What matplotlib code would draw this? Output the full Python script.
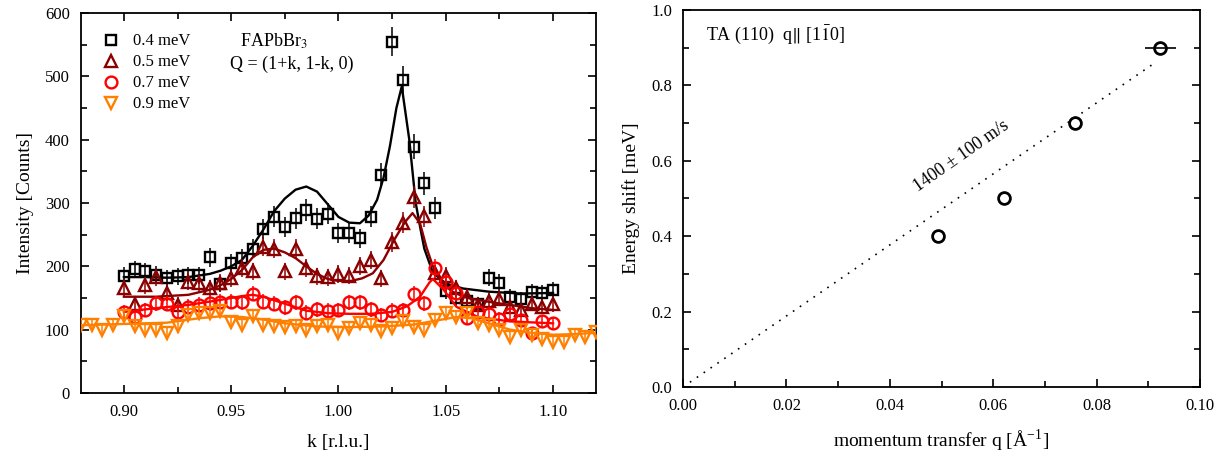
import numpy as np
import matplotlib
matplotlib.use("Agg")
import matplotlib.pyplot as plt
from matplotlib.lines import Line2D
from matplotlib.ticker import MultipleLocator

# --- datos ---
k_main = [0.900, 0.905, 0.910, 0.915, 0.920, 0.925, 0.930, 0.935, 0.940, 0.945,
          0.950, 0.955, 0.960, 0.965, 0.970, 0.975, 0.980, 0.985, 0.990, 0.995,
          1.000, 1.005, 1.010, 1.015, 1.020, 1.025, 1.030, 1.035, 1.040, 1.045,
          1.050, 1.055, 1.060, 1.065, 1.070, 1.075, 1.080, 1.085, 1.090, 1.095, 1.100]

cnt_04 = [185, 195, 192, 187, 181, 184, 186, 186, 214, 172,
          205, 213, 228, 259, 278, 262, 276, 289, 275, 283,
          253, 253, 244, 278, 344, 555, 494, 389, 331, 292,
          161, 150, 145, 140, 182, 174, 152, 148, 160, 158, 163]

cnt_05 = [165, 140, 170, 183, 158, 139, 176, 173, 165, 174,
          181, 197, 192, 231, 228, 192, 228, 198, 184, 183,
          188, 185, 200, 210, 181, 238, 269, 310, 279, 189,
          185, 166, 152, 139, 146, 149, 136, 131, 141, 136, 140]

cnt_07 = [128, 120, 131, 142, 141, 128, 136, 139, 142, 144,
          144, 143, 157, 144, 141, 135, 143, 127, 132, 130,
          131, 143, 143, 132, 123, 130, 131, 156, 142, 198,
          175, 158, 119, 128, 124, 117, 125, 115, 94, 113, 110]

k_09 = [0.880, 0.885, 0.890, 0.895, 0.900, 0.905, 0.910, 0.915, 0.920, 0.925,
        0.930, 0.935, 0.940, 0.945, 0.950, 0.955, 0.960, 0.965, 0.970, 0.975,
        0.980, 0.985, 0.990, 0.995, 1.000, 1.005, 1.010, 1.015, 1.020, 1.025,
        1.030, 1.035, 1.040, 1.045, 1.050, 1.055, 1.060, 1.065, 1.070, 1.075,
        1.080, 1.085, 1.090, 1.095, 1.100, 1.105, 1.110, 1.115, 1.120]
cnt_09 = [107, 107, 100, 108, 121, 105, 100, 100, 94, 105,
          123, 126, 126, 130, 112, 107, 122, 108, 106, 104,
          106, 99, 106, 108, 94, 103, 110, 107, 98, 102,
          114, 104, 99, 115, 126, 120, 126, 110, 107, 99,
          89, 99, 92, 86, 81, 81, 92, 89, 97]

# curvas de ajuste (puntos leídos sobre las líneas)
fit04_k = [0.900, 0.910, 0.920, 0.930, 0.940, 0.945, 0.950, 0.955, 0.960, 0.965,
           0.970, 0.975, 0.980, 0.985, 0.990, 0.995, 1.000, 1.005, 1.010, 1.014,
           1.018, 1.021, 1.024, 1.027, 1.0295, 1.033, 1.036, 1.038, 1.040, 1.044,
           1.050, 1.058, 1.070, 1.085, 1.100]
fit04_y = [183, 183, 182, 183, 188, 193, 200, 210, 232, 258,
           287, 307, 321, 326, 318, 298, 278, 269, 268, 280,
           305, 340, 390, 450, 484, 400, 300, 263, 228, 190,
           173, 165, 160, 157, 158]

fit05_k = [0.900, 0.915, 0.930, 0.940, 0.945, 0.950, 0.955, 0.960, 0.965, 0.970,
           0.975, 0.980, 0.985, 0.990, 0.995, 1.000, 1.006, 1.011, 1.016, 1.021,
           1.026, 1.031, 1.0345, 1.038, 1.041, 1.044, 1.048, 1.053, 1.060, 1.070,
           1.080, 1.090, 1.100]
fit05_y = [152, 152, 155, 163, 170, 180, 194, 214, 226, 228,
           222, 213, 200, 188, 180, 177, 177, 181, 189, 210,
           242, 270, 284, 268, 230, 200, 175, 160, 150, 144,
           139, 134, 131]

fit07_k = [0.900, 0.915, 0.930, 0.945, 0.955, 0.960, 0.965, 0.975, 0.985, 0.995,
           1.005, 1.015, 1.025, 1.032, 1.038, 1.0425, 1.044, 1.049, 1.055, 1.065,
           1.080, 1.100]
fit07_y = [128, 134, 139, 147, 153, 155, 152, 141, 130, 126,
           125, 125, 128, 137, 152, 175, 180, 163, 136, 120,
           113, 110]

fit09_k = [0.880, 0.900, 0.920, 0.935, 0.945, 0.955, 0.965, 0.975, 0.990, 1.005,
           1.020, 1.035, 1.045, 1.055, 1.062, 1.070, 1.080, 1.090, 1.100, 1.110, 1.120]
fit09_y = [107, 109, 111, 118, 121, 120, 116, 110, 105, 104,
           105, 108, 114, 120, 118, 110, 100, 95, 92, 93, 95]

labels = ["0.4 meV", "0.5 meV", "0.7 meV", "0.9 meV"]
colores = ["#000000", "#8b0000", "#ff0000", "#ff8000"]
marcas = ["s", "^", "o", "v"]
tam = [7.5, 9, 8.5, 9]

# panel derecho
q_vals = [0.0494, 0.0620, 0.0759, 0.0923]
e_vals = [0.40, 0.50, 0.70, 0.90]
q_err = [0.0, 0.0, 0.0, 0.003]
fit_q = [0.0, 0.0915]
fit_e = [0.0, 0.862]

# --- estilo ---
plt.rcParams["font.family"] = ["Liberation Serif", "DejaVu Serif"]
plt.rcParams["mathtext.fontset"] = "stix"
plt.rcParams["xtick.direction"] = "in"
plt.rcParams["ytick.direction"] = "in"

fig = plt.figure(figsize=(12.23, 4.55), dpi=100)
ax1 = fig.add_axes([0.0662, 0.1363, 0.4211, 0.8351])
ax2 = fig.add_axes([0.5585, 0.1495, 0.4227, 0.8286])

series = [(k_main, cnt_04, fit04_k, fit04_y),
          (k_main, cnt_05, fit05_k, fit05_y),
          (k_main, cnt_07, fit07_k, fit07_y),
          (k_09, cnt_09, fit09_k, fit09_y)]

for i, (kx, cy, fk, fy) in enumerate(series):
    c = colores[i]
    err = np.sqrt(np.array(cy, dtype=float))  # estadística de conteo
    ax1.errorbar(kx, cy, yerr=err, fmt=marcas[i], ms=tam[i],
                 mfc="none", mec=c, mew=1.7, ecolor=c, elinewidth=1.1, capsize=0,
                 zorder=3 + i)
    ax1.plot(fk, fy, color=c, lw=1.7, zorder=3 + i)

ax1.set_xlim(0.88, 1.12)
ax1.set_ylim(0, 600)
ax1.xaxis.set_major_locator(MultipleLocator(0.05))
ax1.xaxis.set_minor_locator(MultipleLocator(0.025))
ax1.yaxis.set_major_locator(MultipleLocator(100))
ax1.yaxis.set_minor_locator(MultipleLocator(50))
ax1.xaxis.set_major_formatter(plt.FormatStrFormatter("%.2f"))
ax1.tick_params(which="both", top=True, right=True, labelsize=12, width=1.2)
ax1.tick_params(which="major", length=6, pad=8)
ax1.tick_params(which="minor", length=4)
ax1.set_xlabel("k [r.l.u.]", fontsize=14, labelpad=10)
ax1.set_ylabel("Intensity [Counts]", fontsize=14, labelpad=8)

handles = [Line2D([], [], ls="none", marker=marcas[i], mfc="none", mec=colores[i],
                  mew=1.7, ms=tam[i]) for i in range(4)]
ax1.legend(handles, labels, loc="upper left", bbox_to_anchor=(0.02, 0.977),
           frameon=False, fontsize=12, handlelength=1.0, handletextpad=0.8,
           labelspacing=0.3, borderaxespad=0.3)

ax1.text(0.375, 0.925, r"FAPbBr$_3$", transform=ax1.transAxes, ha="center",
         va="center", fontsize=13)
ax1.text(0.410, 0.865, "Q = (1+k, 1-k, 0)", transform=ax1.transAxes, ha="center",
         va="center", fontsize=13)

for sp in ax1.spines.values():
    sp.set_linewidth(1.3)

# panel derecho
ax2.plot(fit_q, fit_e, color="black", lw=1.2, ls=(0, (1, 4)))
ax2.errorbar(q_vals, e_vals, xerr=q_err, fmt="o", ms=8.5, mfc="none", mec="black",
             mew=2.0, ecolor="black", elinewidth=1.2, capsize=0, zorder=3)
ax2.set_xlim(0.0, 0.1)
ax2.set_ylim(0.0, 1.0)
ax2.xaxis.set_major_locator(MultipleLocator(0.02))
ax2.xaxis.set_minor_locator(MultipleLocator(0.01))
ax2.yaxis.set_major_locator(MultipleLocator(0.2))
ax2.yaxis.set_minor_locator(MultipleLocator(0.1))
ax2.xaxis.set_major_formatter(plt.FormatStrFormatter("%.2f"))
ax2.yaxis.set_major_formatter(plt.FormatStrFormatter("%.1f"))
ax2.tick_params(which="both", top=False, right=True, labelsize=12, width=1.2)
ax2.tick_params(which="major", length=6, pad=8)
ax2.tick_params(which="minor", length=4)
ax2.set_xlabel(r"momentum transfer q [Å$^{\mathregular{-1}}$]", fontsize=14, labelpad=10)
ax2.set_ylabel("Energy shift [meV]", fontsize=14, labelpad=8)
ax2.text(0.0045, 0.934, r"TA (110)  q$\|$ [1$\bar{\mathrm{1}}$0]", ha="left",
         va="center", fontsize=13)
ax2.text(0.0538, 0.612, "1400 ± 100 m/s", rotation=35, ha="center", va="center",
         fontsize=13)
for sp in ax2.spines.values():
    sp.set_linewidth(1.3)

fig.savefig("out.png", dpi=100)
